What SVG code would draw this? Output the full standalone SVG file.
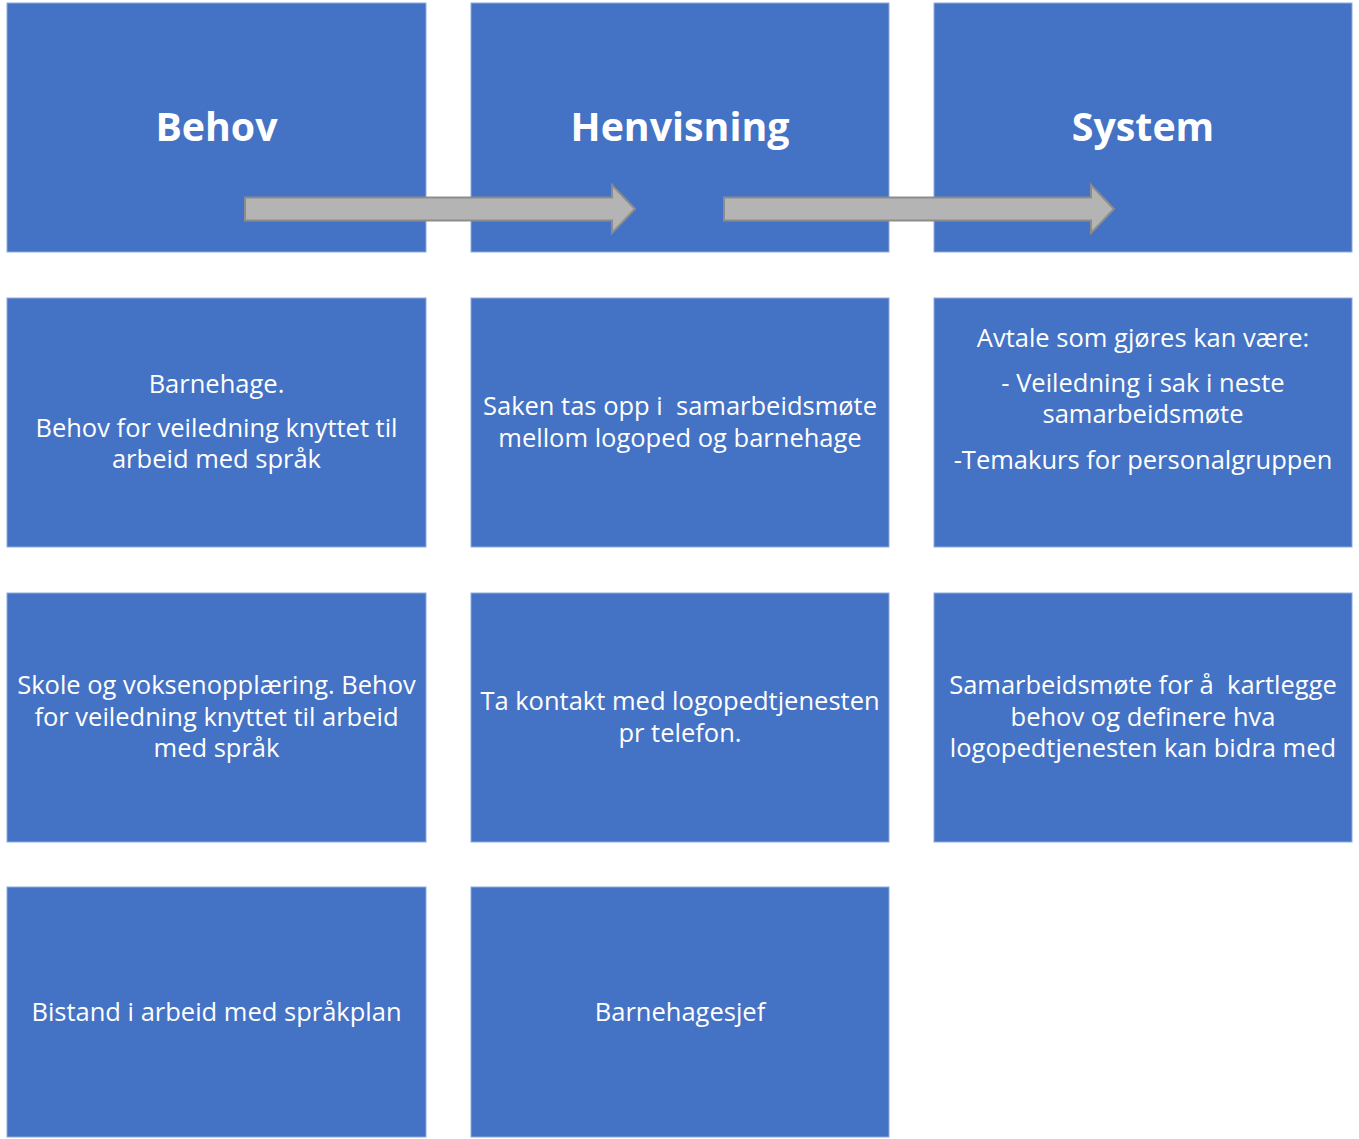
<svg xmlns="http://www.w3.org/2000/svg" width="1359" height="1139" viewBox="0 0 1359 1139">
<style>
.box{fill:#4472c4;stroke:#8faadc;stroke-width:1}
.t{font-family:"Open Sans","Liberation Sans",sans-serif;font-size:25.5px;fill:#fff;text-anchor:middle}
.h{font-family:"Open Sans","Liberation Sans",sans-serif;font-size:39.3px;font-weight:bold;fill:#fff;text-anchor:middle}
.arr{fill:#b4b4b4;stroke:#8c8c8c;stroke-width:2}
</style>
<rect width="1359" height="1139" fill="#fff"/>
<g id="n-behov"><rect class="box" x="7" y="3" width="419" height="249"/><text class="h" x="216.5" y="141">Behov</text></g>
<g id="n-henvisning"><rect class="box" x="471" y="3" width="418" height="249"/><text class="h" x="680" y="141">Henvisning</text></g>
<g id="n-system"><rect class="box" x="934" y="3" width="418" height="249"/><text class="h" x="1143" y="141">System</text></g>
<g id="n-r2c1"><rect class="box" x="7" y="298" width="419" height="249"/>
<text class="t" x="216.5" y="393">Barnehage.</text>
<text class="t" x="216.5" y="437">Behov for veiledning knyttet til</text>
<text class="t" x="216.5" y="468">arbeid med språk</text></g>
<g id="n-r2c2"><rect class="box" x="471" y="298" width="418" height="249"/>
<text class="t" x="680" y="415" xml:space="preserve">Saken tas opp i  samarbeidsmøte</text>
<text class="t" x="680" y="447">mellom logoped og barnehage</text></g>
<g id="n-r2c3"><rect class="box" x="934" y="298" width="418" height="249"/>
<text class="t" x="1143" y="347">Avtale som gjøres kan være:</text>
<text class="t" x="1143" y="392">- Veiledning i sak i neste</text>
<text class="t" x="1143" y="423">samarbeidsmøte</text>
<text class="t" x="1143" y="469">-Temakurs for personalgruppen</text></g>
<g id="n-r3c1"><rect class="box" x="7" y="593" width="419" height="249"/>
<text class="t" x="216.5" y="694">Skole og voksenopplæring. Behov</text>
<text class="t" x="216.5" y="726">for veiledning knyttet til arbeid</text>
<text class="t" x="216.5" y="757">med språk</text></g>
<g id="n-r3c2"><rect class="box" x="471" y="593" width="418" height="249"/>
<text class="t" x="680" y="710">Ta kontakt med logopedtjenesten</text>
<text class="t" x="680" y="742">pr telefon.</text></g>
<g id="n-r3c3"><rect class="box" x="934" y="593" width="418" height="249"/>
<text class="t" x="1143" y="694" xml:space="preserve">Samarbeidsmøte for å  kartlegge</text>
<text class="t" x="1143" y="726">behov og definere hva</text>
<text class="t" x="1143" y="757">logopedtjenesten kan bidra med</text></g>
<g id="n-r4c1"><rect class="box" x="7" y="887" width="419" height="250"/>
<text class="t" x="216.5" y="1021">Bistand i arbeid med språkplan</text></g>
<g id="n-r4c2"><rect class="box" x="471" y="887" width="418" height="250"/>
<text class="t" x="680" y="1021">Barnehagesjef</text></g>
<g id="connectors">
<path class="arr" d="M245,197.5 H612 V185 L635,209 L612,233 V220.5 H245 Z"/>
<path class="arr" d="M724,197.5 H1091 V185 L1114,209 L1091,233 V220.5 H724 Z"/>
</g>
</svg>
